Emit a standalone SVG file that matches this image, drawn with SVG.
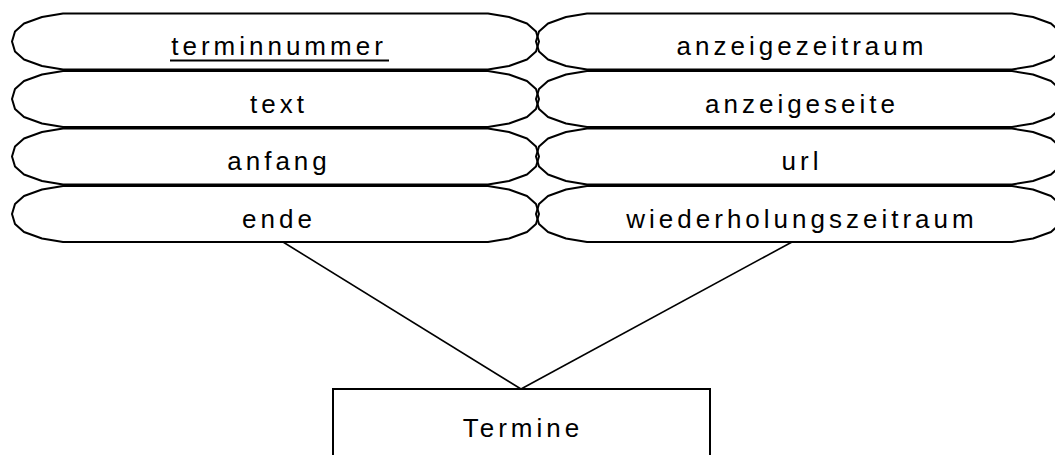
<svg xmlns="http://www.w3.org/2000/svg" xmlns:xlink="http://www.w3.org/1999/xlink" width="1055" height="455" viewBox="0 0 1055 455">
  <style>
    .attr { fill: none; stroke: #000; stroke-width: 2; stroke-linejoin: round; }
    .entity { fill: #fff; stroke: #000; stroke-width: 2; }
    .label { font-family: "Liberation Sans", Arial, sans-serif; font-size: 26px; letter-spacing: 4px; fill: #000; text-anchor: middle; }
    .link { stroke: #000; stroke-width: 1.6; fill: none; }
    .key { stroke: #000; stroke-width: 2; }
  </style>
  <defs>
    <!-- attribute outline: left tip at the origin, width 527, height 56 -->
    <path id="attr-shape" d="M0,0 L3,-10 L12,-18 L30,-24.5 L51,-28 L476,-28 L497,-24.5 L515,-18 L524,-10 L527,0 L524,10 L515,18 L497,24.5 L476,28 L51,28 L30,24.5 L12,18 L3,10 Z"/>
  </defs>

  <rect width="1055" height="455" fill="#fff"/>

  <!-- connectors from the attributes to the entity -->
  <g id="connectors">
    <line class="link" x1="283" y1="242" x2="521" y2="389"/>
    <line class="link" x1="792" y1="242" x2="521" y2="389"/>
  </g>

  <!-- left column of attributes -->
  <g id="attr-terminnummer">
    <use xlink:href="#attr-shape" class="attr" x="12" y="41.5"/>
    <text class="label" x="279" y="55">terminnummer</text>
    <line class="key" x1="170" y1="60.5" x2="389" y2="60.5"/>
  </g>
  <g id="attr-text">
    <use xlink:href="#attr-shape" class="attr" x="12" y="99"/>
    <text class="label" x="279" y="112.5">text</text>
  </g>
  <g id="attr-anfang">
    <use xlink:href="#attr-shape" class="attr" x="12" y="156.5"/>
    <text class="label" x="279" y="170">anfang</text>
  </g>
  <g id="attr-ende">
    <use xlink:href="#attr-shape" class="attr" x="12" y="214"/>
    <text class="label" x="279" y="227.5">ende</text>
  </g>

  <!-- right column of attributes -->
  <g id="attr-anzeigezeitraum">
    <use xlink:href="#attr-shape" class="attr" x="536" y="41.5"/>
    <text class="label" x="802" y="55">anzeigezeitraum</text>
  </g>
  <g id="attr-anzeigeseite">
    <use xlink:href="#attr-shape" class="attr" x="536" y="99"/>
    <text class="label" x="802" y="112.5">anzeigeseite</text>
  </g>
  <g id="attr-url">
    <use xlink:href="#attr-shape" class="attr" x="536" y="156.5"/>
    <text class="label" x="802" y="170">url</text>
  </g>
  <g id="attr-wiederholungszeitraum">
    <use xlink:href="#attr-shape" class="attr" x="536" y="214"/>
    <text class="label" x="802" y="227.5">wiederholungszeitraum</text>
  </g>

  <!-- entity -->
  <g id="entity-termine">
    <rect class="entity" x="333" y="389" width="377" height="80"/>
    <text class="label" x="523" y="437">Termine</text>
  </g>
</svg>
